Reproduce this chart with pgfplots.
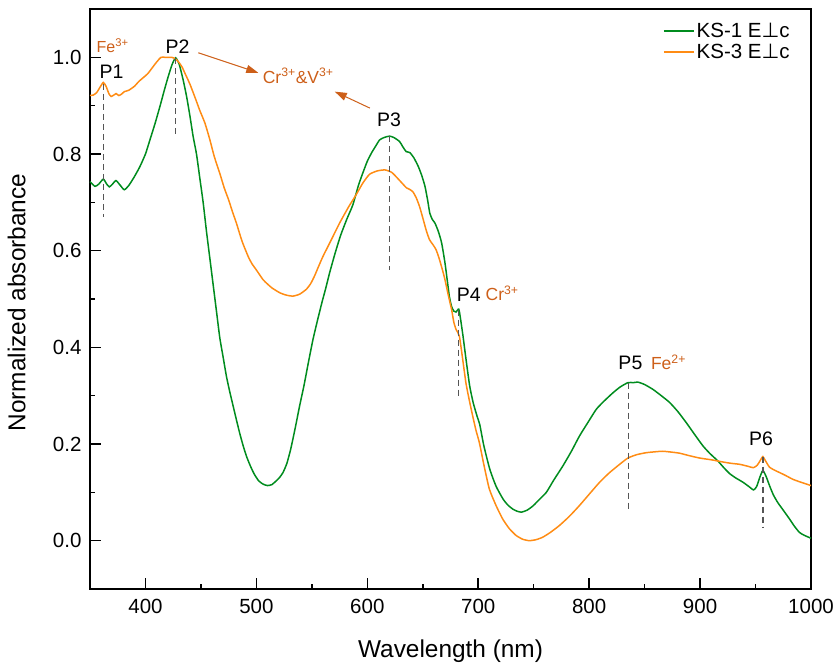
\documentclass[border=0pt]{standalone}
\usepackage{fontspec}
\setmainfont{Liberation Sans}
\newfontfamily\dejavu{DejaVu Sans}
\usepackage{pgfplots}
\pgfplotsset{compat=1.18}
\usepackage{pgfplotstable}
\usetikzlibrary{arrows.meta}
\definecolor{ksgreen}{RGB}{0,140,30}
\definecolor{ksorange}{RGB}{255,140,20}
\definecolor{annot}{RGB}{205,95,25}
\definecolor{dashgray}{RGB}{85,85,85}

\pgfplotstableread{
x y
350 0.743
354.5 0.733
358 0.738
362 0.748
365 0.738
367.4 0.732
370 0.737
373.4 0.745
377 0.736
380.9 0.726
385 0.735
390 0.753
395 0.774
400 0.80
404 0.829
408.5 0.862
413 0.898
417 0.932
420.5 0.960
424 0.985
427.2 0.999
430.5 0.985
434 0.953
437 0.92
440 0.88
443 0.836
446 0.80
449 0.75
452 0.70
455 0.64
458 0.585
461 0.53
464 0.475
467 0.42
470 0.38
473 0.34
476 0.308
479 0.279
482 0.25
485 0.222
488 0.197
491 0.175
494.5 0.155
498 0.138
502 0.124
506 0.117
510 0.114
514 0.116
518 0.124
521 0.131
524 0.141
527.5 0.16
531 0.19
535 0.233
539 0.279
543 0.322
547 0.37
551 0.416
555 0.455
559 0.492
562.5 0.522
566 0.554
571 0.595
576 0.632
581.5 0.665
587 0.695
592 0.735
596 0.761
600 0.785
604 0.803
608 0.818
611 0.829
615 0.834
620 0.837
624 0.834
629 0.826
632 0.815
635 0.805
638.3 0.803
642 0.792
646 0.774
649 0.756
652 0.733
654.5 0.703
656.3 0.678
658.5 0.665
661 0.657
664 0.64
667 0.616
670 0.575
672 0.54
674 0.505
676 0.484
678 0.475
680 0.473
682.5 0.479
684.3 0.455
686.3 0.423
689 0.375
692.3 0.32
695.5 0.285
698.9 0.258
701.4 0.24
705 0.197
710.4 0.148
716 0.113
722.4 0.086
727 0.073
731.4 0.065
735 0.061
738.9 0.059
744 0.063
749.4 0.072
755 0.085
761.4 0.100
768 0.125
776.4 0.155
784 0.185
791.4 0.217
799 0.245
806.5 0.272
814 0.29
821.5 0.306
828 0.318
835 0.327
840 0.327
844 0.328
850 0.323
857.5 0.313
865 0.30
872.5 0.286
880 0.267
887.6 0.244
895 0.22
902.6 0.196
909 0.18
916 0.165
921 0.152
926.5 0.139
932 0.13
938.6 0.121
944 0.112
948.2 0.105
951 0.112
954 0.132
956.6 0.145
959.5 0.133
962.6 0.114
966 0.095
970 0.079
975 0.063
980.6 0.045
985 0.03
989.6 0.017
994 0.011
1000 0.005
}\ksone

\pgfplotstableread{
x y
350 0.921
353 0.922
356 0.927
359 0.938
362 0.948
364.5 0.94
367 0.925
369 0.919
371.5 0.922
373.5 0.925
376 0.921
378.5 0.924
381 0.929
385 0.932
390 0.94
394 0.95
398 0.958
402 0.966
406 0.978
410 0.99
414 1.0
418 1.0
423.6 1.0
427 0.997
430 0.99
433 0.98
435.6 0.967
440 0.945
445 0.915
449 0.89
453.6 0.864
458 0.83
462 0.795
467 0.76
471 0.73
475 0.705
478.5 0.68
482 0.657
487 0.62
492.6 0.588
496 0.573
500 0.56
506 0.54
510 0.531
514 0.523
521 0.513
527 0.508
533 0.506
539 0.51
545 0.52
549 0.532
552.5 0.548
556 0.567
560 0.588
567 0.62
575 0.657
583 0.69
590 0.716
596 0.74
602 0.758
609 0.765
616 0.767
622 0.762
628 0.748
632 0.738
635.3 0.730
638 0.727
641 0.722
644 0.71
647 0.692
650 0.668
653 0.643
656 0.623
659 0.613
662 0.602
665 0.582
668 0.558
670 0.54
673 0.508
676 0.478
678 0.452
680 0.437
683 0.423
686 0.375
689 0.325
692 0.29
695 0.258
698 0.228
701 0.203
705 0.158
710 0.107
716 0.073
722 0.045
728 0.025
734 0.011
740 0.003
746 0.0
752 0.002
758 0.007
765 0.017
773 0.031
782 0.05
791 0.072
800 0.096
809.5 0.121
818 0.14
827.5 0.158
835 0.171
843 0.178
851.5 0.182
860 0.184
866.5 0.185
875 0.183
881.5 0.181
890 0.176
899.5 0.171
911 0.167
920 0.163
928 0.16
935.6 0.158
943 0.154
948 0.151
951.5 0.156
954 0.165
956.6 0.174
959 0.165
962.6 0.152
967 0.146
971.6 0.141
977 0.135
983.6 0.127
992 0.12
1000 0.114
}\ksthree

\begin{document}
\begin{tikzpicture}
\begin{axis}[
  scale only axis, width=721bp, height=580bp,
  xmin=350, xmax=1000, ymin=-0.1, ymax=1.1,
  xtick={400,500,...,1000}, ytick={0,0.2,0.4,0.6,0.8,1.0},
  minor x tick num=1, minor y tick num=1,
  tick align=inside, tick pos=left,
  major tick length=11bp, minor tick length=5.5bp,
  axis line style={line width=1.6bp},
  every tick/.style={line width=1.6bp, black},
  tick label style={font=\fontsize{20.5bp}{24bp}\selectfont},
  /pgf/number format/assume math mode=true,
  yticklabel style={/pgf/number format/.cd, fixed, fixed zerofill, precision=1, /tikz/.cd, xshift=-5bp},
  xticklabel style={yshift=-7bp, /pgf/number format/.cd, set thousands separator={}},
  xlabel={Wavelength (nm)},
  ylabel={Normalized absorbance},
  label style={font=\fontsize{24.4bp}{29bp}\selectfont},
  xlabel style={at={(axis description cs:0.5,-0.107)}, anchor=center},
  ylabel style={at={(axis description cs:-0.1017,0.494)}, anchor=center},
  legend style={draw=none, fill=none, at={(axis description cs:0.7947,0.944)}, anchor=west,
    inner sep=0pt, font=\fontsize{20.5bp}{24bp}\selectfont, row sep=1bp},
  legend cell align=left,
  legend image code/.code={\draw[#1] (0bp,0bp) -- (30bp,0bp);},
  clip=false,
]
\addplot[ksgreen, line width=1.5bp, smooth, tension=0.35] table[x=x,y=y] {\ksone};
\addlegendentry{KS-1 E{\dejavu ⊥}c}
\addplot[ksorange, line width=1.5bp, smooth, tension=0.35] table[x=x,y=y] {\ksthree};
\addlegendentry{KS-3 E{\dejavu ⊥}c}

\pgfplotsset{every axis plot/.append style={forget plot}}
\addplot[dashgray, line width=1.3bp, dash pattern=on 6bp off 4bp] coordinates {(362,0.945) (362,0.67)};
\addplot[dashgray, line width=1.3bp, dash pattern=on 6bp off 4bp] coordinates {(427,0.998) (427,0.84)};
\addplot[dashgray, line width=1.3bp, dash pattern=on 6bp off 4bp] coordinates {(620,0.837) (620,0.56)};
\addplot[dashgray, line width=1.3bp, dash pattern=on 6bp off 4bp] coordinates {(682,0.478) (682,0.293)};
\addplot[dashgray, line width=1.3bp, dash pattern=on 6bp off 4bp] coordinates {(835.6,0.327) (835.6,0.06)};
\addplot[dashgray, line width=1.3bp, dash pattern=on 6bp off 4bp] coordinates {(956.6,0.174) (956.6,0.028)};

\node[font=\fontsize{19.5bp}{23bp}\selectfont] at (axis cs:369.5,0.970) {P1};
\node[font=\fontsize{16bp}{19bp}\selectfont, text=annot] at (axis cs:370.4,1.024) {Fe\textsuperscript{3+}};
\node[font=\fontsize{19.5bp}{23bp}\selectfont] at (axis cs:429,1.022) {P2};
\node[font=\fontsize{17.5bp}{21bp}\selectfont, text=annot] at (axis cs:537.7,0.962) {Cr\textsuperscript{3+}\&V\textsuperscript{3+}};
\node[font=\fontsize{19.5bp}{23bp}\selectfont] at (axis cs:619.7,0.870) {P3};
\node[font=\fontsize{19.5bp}{23bp}\selectfont] at (axis cs:691.4,0.509) {P4};
\node[font=\fontsize{17.5bp}{21bp}\selectfont, text=annot] at (axis cs:721.5,0.511) {Cr\textsuperscript{3+}};
\node[font=\fontsize{19.5bp}{23bp}\selectfont] at (axis cs:837.2,0.367) {P5};
\node[font=\fontsize{17.5bp}{21bp}\selectfont, text=annot] at (axis cs:871.5,0.369) {Fe\textsuperscript{2+}};
\node[font=\fontsize{19.5bp}{23bp}\selectfont] at (axis cs:955,0.210) {P6};

\draw[annot, line width=1bp, -{Triangle[length=12bp,width=8bp]}] (axis cs:447.6,1.0095) -- (axis cs:501.7,0.968);
\draw[annot, line width=1bp, -{Triangle[length=12bp,width=8bp]}] (axis cs:602.3,0.895) -- (axis cs:570.7,0.929);
\end{axis}
\pgfresetboundingbox
\path[use as bounding box] (current axis.south west) ++(-90bp,-80bp) rectangle ++(840bp,669bp);
\end{tikzpicture}
\end{document}
